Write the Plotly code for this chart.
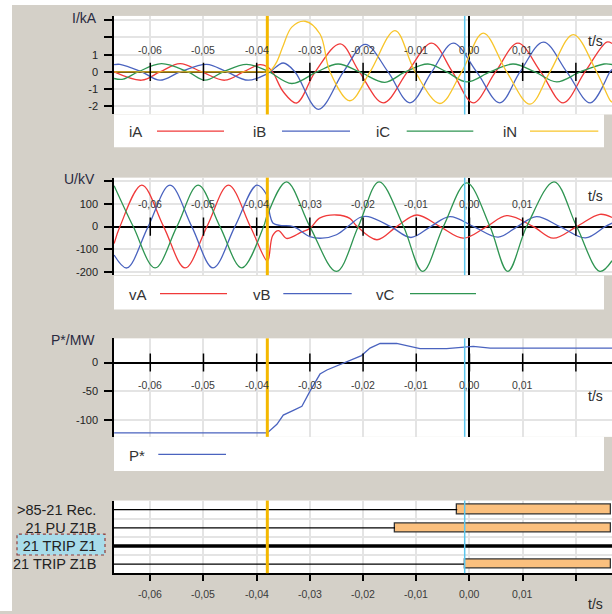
import plotly.graph_objects as go

W, H = 612, 614
FONT = "Liberation Sans, Arial, sans-serif"

# ---------------- time axis (s) ----------------
t_ticks = [-0.06, -0.05, -0.04, -0.03, -0.02, -0.01, 0.0, 0.01, 0.02]
t_labels = ["-0,06", "-0,05", "-0,04", "-0,03", "-0,02", "-0,01", "0,00", "0,01", ""]
T_MIN, T_MAX = -0.06682, 0.02679

trigger_t = -0.0380   # fault inception marker
cursor_t = -0.0009    # cursor

# ---------------- currents (kA) ----------------
iA_t = [-0.0668, -0.0616, -0.0582, -0.0544, -0.0503, -0.0460, -0.0425, -0.0394, -0.0380,
        -0.0370, -0.0350, -0.0325, -0.0290, -0.0243, -0.0207, -0.0162, -0.01165, -0.0071,
        -0.0032, 0.0007, 0.0049, 0.0091, 0.0134, 0.0176, 0.0217, 0.0258, 0.0268]
iA_v = [0.0, -0.48, 0.0, 0.48, 0.0, -0.48, 0.0, 0.42, 0.30,
        0.0, -1.15, -1.80, 0.0, 1.63, 0.0, -1.79, 0.0, 1.67,
        0.0, -1.79, 0.0, 1.67, 0.0, -1.79, 0.0, 1.73, 1.65]

iB_t = [-0.0668, -0.0657, -0.0616, -0.0582, -0.0544, -0.0494, -0.0456, -0.0416, -0.0380,
        -0.0350, -0.0328, -0.0284, -0.0237, -0.0196, -0.0153, -0.0112, -0.0071, -0.00305,
        0.00135, 0.0057, 0.0095, 0.0139, 0.0183, 0.0227, 0.0264, 0.0268]
iB_v = [0.42, 0.44, 0.0, -0.48, 0.0, 0.44, 0.0, -0.48, -0.10,
        0.52, 0.0, -2.17, 0.0, 1.60, 0.0, -1.79, 0.0, 1.67,
        0.0, -1.79, 0.0, 1.73, 0.0, -1.79, 0.0, 0.15]

iC_t = [-0.0668, -0.0651, -0.0623, -0.0579, -0.0529, -0.0497, -0.0463, -0.0419, -0.0380,
        -0.0334, -0.0287, -0.0247, -0.0206, -0.0159, -0.0121, -0.0078, -0.0043, -0.0005,
        0.00385, 0.0082, 0.0123, 0.0164, 0.0208, 0.0253, 0.0268]
iC_v = [-0.38, -0.42, 0.0, 0.48, 0.0, -0.48, 0.0, 0.44, 0.06,
        -0.67, 0.0, 0.46, 0.0, -0.60, 0.0, 0.46, 0.0, -0.58,
        0.0, 0.46, 0.0, -0.58, 0.0, 0.46, 0.43]

iN_t = [-0.0668, -0.0390, -0.0380, -0.0375, -0.0362, -0.0350, -0.0334, -0.0309, -0.0281,
        -0.0262, -0.0225, -0.0187, -0.0140, -0.0102, -0.00555, -0.00147, 0.00259, 0.0070,
        0.01137, 0.01513, 0.01951, 0.0239, 0.0264, 0.0268]
iN_v = [0.0, 0.0, 0.0, 0.05, 0.6, 1.54, 2.6, 2.94, 2.2,
        0.0, -1.67, 0.0, 2.4, 0.0, -1.83, 0.0, 2.25, 0.0,
        -1.87, 0.0, 2.17, 0.0, -1.63, -1.75]

# ---------------- voltages (kV) ----------------
vA_t = [-0.0668, -0.0657, -0.0616, -0.0575, -0.05345, -0.04935, -0.0453, -0.0412, -0.0381,
        -0.0378, -0.0370, -0.0359, -0.0344, -0.0331, -0.0319, -0.0300, -0.0281, -0.0250,
        -0.0225, -0.0213, -0.0174, -0.0137, -0.0099, -0.00555, -0.00117, 0.00323, 0.0070,
        0.0120, 0.01575, 0.02015, 0.0245, 0.0268]
vA_v = [-75, 0, 182, 0, -182, 0, 182, 0, -150,
        -144, -40, -18, -52, -43, -28, -8, 38, 51,
        36, 5, -58, 0, 51, 0, -51, 0, 48,
        0, -51, 0, 54, 40]

vB_t = [-0.0668, -0.0644, -0.0604, -0.0563, -0.0522, -0.0482, -0.0441, -0.0400, -0.0381,
        -0.0379, -0.0375, -0.0369, -0.0356, -0.0337, -0.0325, -0.0300, -0.0277, -0.0250,
        -0.0225, -0.0206, -0.0190, -0.0148, -0.0110, -0.0073, -0.0037, 0.0008, 0.0054,
        0.0090, 0.0126, 0.0170, 0.0218, 0.0255, 0.0268]
vB_v = [-125, -182, 0, 182, 0, -182, 0, 182, 139,
        120, 51, 15, 5, 3, -7, -44, -51, -36,
        7, 40, 44, 0, -48, 0, 44, 0, -46,
        0, 44, 0, -50, 0, 15]

vC_t = [-0.0668, -0.0632, -0.0591, -0.0550, -0.0510, -0.0469, -0.0428, -0.0387, -0.0380,
        -0.0344, -0.0300, -0.0250, -0.0209, -0.0170, -0.0124, -0.0088, -0.0049, -0.0005,
        0.00385, 0.0072, 0.01075, 0.0159, 0.02015, 0.0245, 0.0268]
vC_v = [180, 0, -182, 0, 182, 0, -182, 0, 51,
        197, 0, -197, 0, 197, 0, -197, 0, 192,
        0, -197, 0, 197, 0, -197, -150]

# ---------------- power (MW) ----------------
P_t = [-0.0668, -0.0380, -0.0362, -0.0350, -0.0331, -0.0315, -0.0300, -0.0281, -0.0268,
       -0.0237, -0.0218, -0.0203, -0.0187, -0.0168, -0.0137, -0.0112, -0.0093, -0.0043,
       -0.0009, 0.0007, 0.0039, 0.0268]
P_v = [-122, -122, -107, -91, -83, -76, -50, -20, -13,
       -1, 6, 12, 25, 33, 33, 28, 24, 24,
       26, 28, 25, 25]

# ---------------- axis ticks ----------------
I_ticks = [-2, -1, 0, 1, 2, 3]
I_ticklabels = ["-2", "-1", "0", "1", "", ""]
U_ticks = [-200, -100, 0, 100, 200]
U_ticklabels = ["-200", "-100", "0", "100", ""]
P_ticks = [-100, -50, 0]
P_ticklabels = ["-100", "-50", "0"]

# ---------------- binary channels ----------------
bin_labels = [">85-21 Rec.", "21 PU Z1B", "21 TRIP Z1", "21 TRIP Z1B"]
bin_on = [-0.0023, -0.0140, None, -0.0009]
bin_selected = [False, False, True, False]

# ---------------- styling ----------------
RED, BLUE, GREEN, YELLOW = "#f03a3a", "#4a63bf", "#2f9552", "#f8c52a"
GRID = "#e4e4e4"
PANEL_BG = "#d4d0c8"
ORANGE = "#fbc07e"
TEXT = "#2a2a2a"


def fx(p):
    return p / W


def fy(p):
    return 1 - p / H


def xn(k):
    return "x" if k == 1 else f"x{k}"


def yn(k):
    return "y" if k == 1 else f"y{k}"


fig = go.Figure()


def wave(t, v, color, k):
    fig.add_trace(go.Scatter(
        x=t, y=v, mode="lines",
        line=dict(color=color, width=1.3, shape="spline", smoothing=1.0),
        xaxis=xn(k), yaxis=yn(k), hoverinfo="skip", showlegend=False))


wave(iA_t, iA_v, RED, 1)
wave(iB_t, iB_v, BLUE, 1)
wave(iC_t, iC_v, GREEN, 1)
wave(iN_t, iN_v, YELLOW, 1)

wave(vA_t, vA_v, RED, 2)
wave(vB_t, vB_v, BLUE, 2)
wave(vC_t, vC_v, GREEN, 2)

fig.add_trace(go.Scatter(x=P_t, y=P_v, mode="lines", line=dict(color=BLUE, width=1.3),
                         xaxis="x3", yaxis="y3", hoverinfo="skip", showlegend=False))

# tick marks crossing the time axis on the zero line of the analog panels
for k in (1, 2, 3):
    fig.add_trace(go.Scatter(
        x=t_ticks, y=[0] * len(t_ticks), mode="markers",
        marker=dict(symbol="line-ns", size=13, line=dict(color="black", width=1.5)),
        xaxis=xn(k), yaxis=yn(k), hoverinfo="skip", showlegend=False))

# binary channels: off state as a line, on state as an orange bar
bar_rows, bar_base, bar_len = [], [], []
for row, (t_on, sel) in enumerate(zip(bin_on, bin_selected)):
    t_line_end = T_MAX if t_on is None else t_on
    fig.add_trace(go.Scatter(
        x=[T_MIN, t_line_end], y=[row, row], mode="lines",
        line=dict(color="black", width=3.5 if sel else 1.3),
        xaxis="x4", yaxis="y4", hoverinfo="skip", showlegend=False))
    if t_on is not None:
        bar_rows.append(row)
        bar_base.append(t_on)
        bar_len.append(T_MAX - 0.0002 - t_on)

fig.add_trace(go.Bar(
    x=bar_len, base=bar_base, y=bar_rows, orientation="h", width=0.52,
    marker=dict(color=ORANGE, line=dict(color="#333333", width=1.3)),
    xaxis="x4", yaxis="y4", hoverinfo="skip", showlegend=False))

# ---------------- layout ----------------
panels = {
    1: dict(top=16, bottom=115, yr=[-2.464, 3.249], tv=I_ticks, tt=I_ticklabels),
    2: dict(top=178.5, bottom=276.5, yr=[-213.6, 215.3], tv=U_ticks, tt=U_ticklabels),
    3: dict(top=340, bottom=439, yr=[-128.8, 41.9], tv=P_ticks, tt=P_ticklabels),
    4: dict(top=503, bottom=576, yr=[3.5, -0.5], tv=[0, 1, 2, 3], tt=bin_labels),
}

layout = dict(
    width=W, height=H, margin=dict(l=0, r=0, t=0, b=0),
    paper_bgcolor=PANEL_BG, plot_bgcolor="white",
    font=dict(family=FONT, color=TEXT), showlegend=False, bargap=0,
)

for k, p in panels.items():
    xa = dict(domain=[fx(114), 1], range=[T_MIN, T_MAX], tickvals=t_ticks,
              showgrid=True, gridcolor=GRID, gridwidth=1.5, showticklabels=False,
              anchor=yn(k), fixedrange=True)
    if k < 4:
        xa.update(zeroline=True, zerolinecolor="black", zerolinewidth=1.5,
                  ticks="", showline=False)
    else:
        xa.update(zeroline=False, showline=True, linecolor="black", linewidth=1.5,
                  ticks="outside", ticklen=6, tickwidth=1.5, tickcolor="black")
    ya = dict(domain=[fy(p["bottom"]), fy(p["top"])], range=p["yr"],
              tickvals=p["tv"], ticktext=p["tt"], anchor=xn(k), fixedrange=True,
              showline=True, linecolor="black", linewidth=1.5)
    if k < 4:
        ya.update(showgrid=True, gridcolor=GRID, gridwidth=1.5,
                  zeroline=True, zerolinecolor="black", zerolinewidth=1.5,
                  ticks="outside", ticklen=8, tickwidth=1.5, tickcolor="black",
                  tickfont=dict(size=11, color="#222222"), ticklabelstandoff=4)
    else:
        ya.update(showgrid=False, zeroline=False, ticks="",
                  tickfont=dict(size=14.5, color="#222222"), ticklabelstandoff=13,
                  minor=dict(tickvals=[0.5, 1.5, 2.5], showgrid=True,
                             gridcolor=GRID, gridwidth=1.5, ticks=""))
    layout["xaxis" if k == 1 else f"xaxis{k}"] = xa
    layout["yaxis" if k == 1 else f"yaxis{k}"] = ya

fig.update_layout(**layout)

shapes = []
# white frame strips
shapes.append(dict(type="rect", xref="paper", yref="paper", x0=0, x1=1, y0=fy(5), y1=1,
                   fillcolor="white", line=dict(width=0), layer="below"))
shapes.append(dict(type="rect", xref="paper", yref="paper", x0=0, x1=fx(12), y0=0, y1=1,
                   fillcolor="white", line=dict(width=0), layer="below"))
# legend boxes
for top, bot in [(115, 148), (277, 311), (439, 473.3)]:
    shapes.append(dict(type="rect", xref="paper", yref="paper", x0=fx(114), x1=fx(604),
                       y0=fy(bot), y1=fy(top), fillcolor="white", line=dict(width=0),
                       layer="below"))
# highlighted channel label box
shapes.append(dict(type="rect", xref="paper", yref="paper", x0=fx(17), x1=fx(105),
                   y0=fy(557.7), y1=fy(536.7), fillcolor="#a8dcea",
                   line=dict(color="#8c3c3c", width=1.2, dash="dot"), layer="below"))
# event markers
for k in (1, 2, 3, 4):
    yd = "y domain" if k == 1 else f"y{k} domain"
    shapes.append(dict(type="line", xref="x", yref=yd, x0=cursor_t, x1=cursor_t, y0=0, y1=1,
                       line=dict(color="#5cc6ee", width=1.5), layer="above"))
    shapes.append(dict(type="line", xref="x", yref=yd, x0=trigger_t, x1=trigger_t, y0=0, y1=1,
                       line=dict(color="#f4b800", width=3), layer="above"))

# legends: name followed by a line sample
legend_rows = [
    (131.7, [("iA", RED, 128, 157, 224), ("iB", BLUE, 251.7, 282, 350),
             ("iC", GREEN, 375, 406.7, 473.3), ("iN", YELLOW, 501.7, 530, 598.3)]),
    (295, [("vA", RED, 128, 160, 227), ("vB", BLUE, 251.7, 283.3, 351.7),
           ("vC", GREEN, 375, 410, 476)]),
    (456.7, [("P*", BLUE, 128, 158.3, 226)]),
]
annotations = []
for ypx, items in legend_rows:
    for name, col, xt, x0, x1 in items:
        shapes.append(dict(type="line", xref="paper", yref="paper", x0=fx(x0), x1=fx(x1),
                           y0=fy(ypx), y1=fy(ypx), line=dict(color=col, width=1.3)))
        annotations.append(dict(text=name, xref="paper", yref="paper", x=fx(xt - 1),
                                y=fy(ypx + 0.8), xanchor="left", yanchor="middle",
                                showarrow=False, font=dict(size=15, color="#333333")))

# time tick labels and axis names
label_y = {1: 50, 2: 205.5, 3: 387.3, 4: 596.7}
ts_y = {1: 41.7, 2: 197.3, 3: 398.3, 4: 606.7}
for k in (1, 2, 3, 4):
    for tv, tl in zip(t_ticks, t_labels):
        if tl:
            annotations.append(dict(text=tl, xref="x", yref="paper", x=tv, y=fy(label_y[k]),
                                    xanchor="center", yanchor="middle", showarrow=False,
                                    font=dict(size=10.5, color="#3a3a3a")))
    annotations.append(dict(text="t/s", xref="paper", yref="paper", x=fx(595.8), y=fy(ts_y[k]),
                            xanchor="center", yanchor="middle", showarrow=False,
                            font=dict(size=14, color="#2a2a2a")))

for txt, xr, ypx in [("I/kA", 99, 18.3), ("U/kV", 97, 180), ("P*/MW", 96.5, 341.7)]:
    annotations.append(dict(text=txt, xref="paper", yref="paper", x=fx(xr), y=fy(ypx),
                            xanchor="right", yanchor="middle", showarrow=False,
                            font=dict(size=14, color="#2a2a40")))

fig.update_layout(shapes=shapes, annotations=annotations)
fig.write_html("out.html")
